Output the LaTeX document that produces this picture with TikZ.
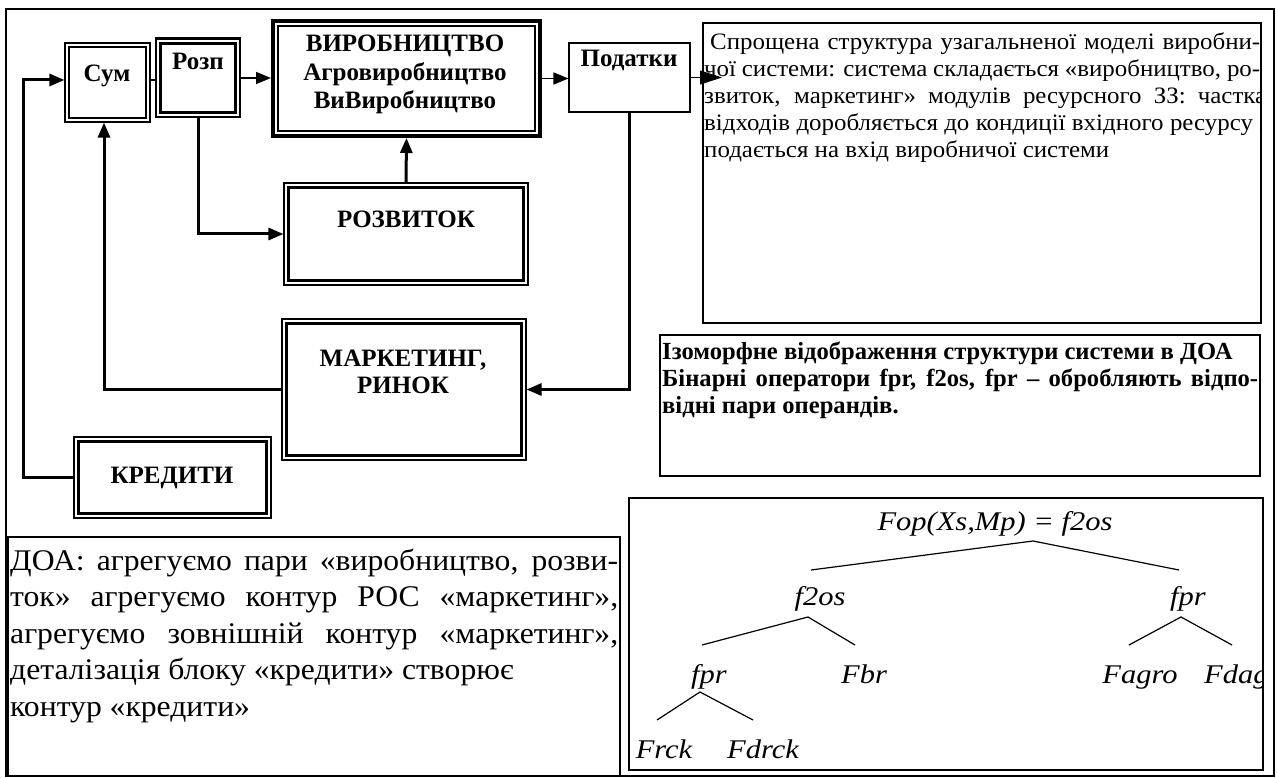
\documentclass[tikz,border=0pt]{standalone}
\usepackage{fontspec}
\setmainfont{Liberation Serif}
\newfontfamily\descfont[FakeStretch=1.06]{Liberation Serif}
\newfontfamily\doafont[FakeStretch=1.055]{Liberation Serif}
\newfontfamily\exprfont[FakeStretch=1.13]{Liberation Serif}
\usetikzlibrary{arrows.meta}

% a rectangle node given by its corners (x1,y1) and (x2,y2), in pixel units
\newcommand\blockbox[6]{%
  \pgfmathsetmacro\blkw{#4-#2}\pgfmathsetmacro\blkh{#5-#3}%
  \node[#6, minimum width=\blkw pt, minimum height=\blkh pt] (#1) at ({(#2+#4)/2},{(#3+#5)/2}) {};}
% a second frame drawn inside a block
\newcommand\innerframe[3]{%
  \draw[line width=#3] ([shift={(#2pt,#2pt)}]#1.south west) rectangle ([shift={(-#2pt,-#2pt)}]#1.north east);}

\begin{document}
\begin{tikzpicture}[x=1pt,y=-1pt,
  thinbox/.style={draw, rectangle, inner sep=0pt, line width=1.1pt},
  heavybox/.style={draw, rectangle, inner sep=0pt, line width=4pt},
  lab/.style={inner sep=0pt, anchor=base, font=\bfseries\fontsize{25}{29}\selectfont},
  flow/.style={line width=3pt, -{Triangle[length=15pt,width=12pt]}},
  feed/.style={line width=1.6pt, -{Triangle[length=15pt,width=12pt]}},
  branch/.style={line width=1.2pt},
  expr/.style={inner sep=0pt, anchor=base, font=\exprfont\itshape\fontsize{27}{30}\selectfont},
  txt/.style={inner sep=0pt, anchor=base west}]
\useasboundingbox (0,0) rectangle (1277,778);

% outer frame
\blockbox{frame}{6}{9}{1274}{776}{thinbox}

% blocks of the production system
\blockbox{sum}{65}{43}{150}{122}{thinbox}
\innerframe{sum}{5}{2pt}
\blockbox{rozp}{156}{39}{240}{117}{thinbox}
\draw[line width=3pt] (rozp.north west) -- (rozp.north east);
\innerframe{rozp}{5}{3.2pt}
\blockbox{vyr}{273}{21}{540}{136}{heavybox}
\innerframe{vyr}{7}{1.2pt}
\blockbox{podat}{569}{43}{690}{112}{thinbox}
\blockbox{rozv}{284}{183}{528}{285}{thinbox}
\innerframe{rozv}{5}{2.6pt}
\blockbox{mark}{282}{319}{526}{460}{thinbox}
\innerframe{mark}{5}{3.2pt}
\blockbox{kred}{74}{437}{271}{518}{thinbox}
\innerframe{kred}{5}{2.2pt}

\node[lab] (lsum) at (107,82) {Сум};
\node[lab] (lrozp) at (198,70) {Розп};
\node[lab] (lvyr1) at (405,52) {ВИРОБНИЦТВО};
\node[lab] (lvyr2) at (405,81) {Агровиробництво};
\node[lab] (lvyr3) at (405,109) {ВиВиробництво};
\node[lab] (lpodat) at (629,67) {Податки};
\node[lab] (lrozv) at (406,228) {РОЗВИТОК};
\node[lab] (lmark1) at (403,366) {МАРКЕТИНГ,};
\node[lab] (lmark2) at (403,393) {РИНОК};
\node[lab] (lkred) at (172,483) {КРЕДИТИ};

% connectors
\coordinate (cL) at (23,80);
\coordinate (ptip) at (722,77.5);
\draw[line width=1.1pt] ([yshift=2.5pt]sum.east) -- ([yshift=-2pt]rozp.west);
\draw[feed] (rozp.east) -- (rozp.east -| vyr.west);
\draw[feed] (vyr.east) -- (vyr.east -| podat.west);
\draw[line width=1.1pt, -{Triangle[length=22pt,width=14pt]}] (podat.east) -- (ptip);
\draw[flow] (kred.west) -| (cL) -- ([yshift=2.5pt]sum.west);
\draw[flow] (mark.west) -| ([xshift=-3.5pt]sum.south);
\draw[flow] (rozp.south) |- (rozv.west);
\draw[flow] (rozv.north) -- (vyr.south);
\draw[flow] (podat.south) |- (mark.east);

% description of the structure
\blockbox{desc}{703}{23}{1261}{323}{thinbox}
\begin{scope}
\clip (703,23) rectangle (1261,323);
\node[txt] (desctext) at (704,50) {\begin{minipage}[t]{556pt}\descfont\fontsize{23.5}{27}\selectfont\parindent=0pt
\makebox[\linewidth][s]{\kern6pt Спрощена структура узагальненої моделі виробни-}\\
\makebox[\linewidth][s]{чої системи: система складається «виробництво, ро-}\\
\makebox[562pt][s]{звиток, маркетинг» модулів ресурсного ЗЗ: частка}\\
\makebox[562pt][s]{відходів доробляється до кондиції вхідного ресурсу і}\\
подається на вхід виробничої системи
\end{minipage}};
\end{scope}

% isomorphic mapping note
\blockbox{iso}{660}{335}{1260}{476}{thinbox}
\node[txt] (isotext) at (662,359) {\begin{minipage}[t]{596pt}\bfseries\fontsize{24.6}{27}\selectfont\parindent=0pt
Ізоморфне відображення структури системи в ДОА\\
\makebox[\linewidth][s]{Бінарні оператори fpr, f2os, fpr – обробляють відпо-}\\
відні пари операндів.
\end{minipage}};

% aggregation note
\blockbox{doa}{8}{537}{620}{776}{thinbox}
\node[txt] (doatext) at (10,570) {\begin{minipage}[t]{608pt}\doafont\fontsize{30}{36.5}\selectfont\parindent=0pt
\makebox[\linewidth][s]{ДОА: агрегуємо пари «виробництво, розви-}\\
\makebox[\linewidth][s]{ток» агрегуємо контур РОС «маркетинг»,}\\
\makebox[\linewidth][s]{агрегуємо зовнішній контур «маркетинг»,}\\
деталізація блоку «кредити» створює\\
\kern6pt контур «кредити»
\end{minipage}};

% operator tree
\blockbox{tree}{629}{498}{1263}{770}{thinbox}
\begin{scope}
\clip (629,498) rectangle (1262,770);
\node[expr] (root) at (995,530) {Fop(Xs,Mp) = f2os};
\node[expr] (n1) at (820,605) {f2os};
\node[expr] (n2) at (1188,605) {fpr};
\node[expr] (n11) at (709,683) {fpr};
\node[expr] (n12) at (864,683) {Fbr};
\node[expr] (n21) at (1140,683) {Fagro};
\node[expr, anchor=base west] (n22) at (1204,683) {Fdag};
\node[expr] (n111) at (664,758) {Frck};
\node[expr] (n112) at (763,758) {Fdrck};
\end{scope}
\coordinate (a0) at (1033,541);
\coordinate (a0l) at (811,570);
\coordinate (a0r) at (1179,570);
\coordinate (a1) at (808,617);
\coordinate (a1l) at (702,645);
\coordinate (a1r) at (855,645);
\coordinate (a2) at (1181,617);
\coordinate (a2l) at (1129,645);
\coordinate (a2r) at (1232,645);
\coordinate (a3) at (700,692);
\coordinate (a3l) at (657,720);
\coordinate (a3r) at (753,720);
\draw[branch] (a0l) -- (a0) -- (a0r);
\draw[branch] (a1l) -- (a1) -- (a1r);
\draw[branch] (a2l) -- (a2) -- (a2r);
\draw[branch] (a3l) -- (a3) -- (a3r);
\end{tikzpicture}
\end{document}
